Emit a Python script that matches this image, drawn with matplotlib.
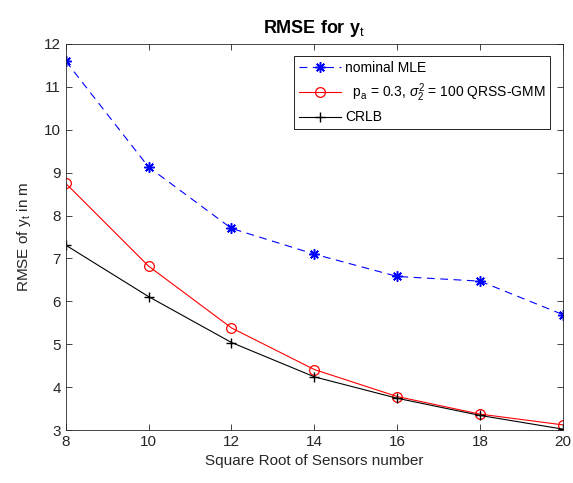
import matplotlib
matplotlib.use("Agg")
import matplotlib.pyplot as plt

x = [8, 10, 12, 14, 16, 18, 20]
mle = [11.60, 9.13, 7.70, 7.10, 6.58, 6.47, 5.69]
qrss = [8.75, 6.82, 5.38, 4.41, 3.78, 3.37, 3.12]
crlb = [7.31, 6.11, 5.04, 4.24, 3.74, 3.34, 3.02]

plt.rcParams['font.family'] = ['Liberation Sans', 'DejaVu Sans']
plt.rcParams['mathtext.fontset'] = 'custom'
plt.rcParams['mathtext.rm'] = 'Liberation Sans'
plt.rcParams['mathtext.it'] = 'Liberation Sans:italic'

fig = plt.figure(figsize=(5.73, 4.83), dpi=100)
ax = fig.add_axes([0.1147, 0.1097, 0.8678, 0.7993])

ax.plot(x, mle, color='blue', linestyle=(0, (7, 5)), linewidth=0.8,
        marker=(8, 2, 0), markersize=7.5, markeredgewidth=1.1, label='nominal MLE')
ax.plot(x, qrss, color='red', linewidth=0.8, marker='o', markersize=7,
        markerfacecolor='none', markeredgewidth=0.9,
        label='  p$_\\mathrm{a}$ = 0.3, $\\sigma_2^2$ = 100 QRSS-GMM')
ax.plot(x, crlb, color='black', linewidth=0.8, marker='+', markersize=7.5,
        markeredgewidth=1.0, label='CRLB')

ax.set_xlim(8, 20)
ax.set_ylim(3, 12)
ax.set_xticks(x)
ax.set_yticks(range(3, 13))
ax.tick_params(direction='in', top=True, right=True, labelsize=11,
               length=4, width=0.6, colors='#262626')
for s in ax.spines.values():
    s.set_linewidth(0.6)
    s.set_color('#262626')

ax.set_title('RMSE for y$_\\mathrm{t}$', fontsize=13, fontweight='bold', pad=8)
ax.set_xlabel('Square Root of Sensors number', fontsize=11, color='#262626')
ax.set_ylabel('RMSE of y$_\\mathrm{t}$ in m', fontsize=11, color='#262626',
              labelpad=8)

leg = ax.legend(loc='upper right', fontsize=10, frameon=True, fancybox=False,
                edgecolor='black', framealpha=1, handlelength=3.0,
                handletextpad=0.3, borderaxespad=0.9, labelspacing=0.45,
                borderpad=0.35)
leg.get_frame().set_linewidth(0.6)

fig.savefig('out.png', dpi=100)
